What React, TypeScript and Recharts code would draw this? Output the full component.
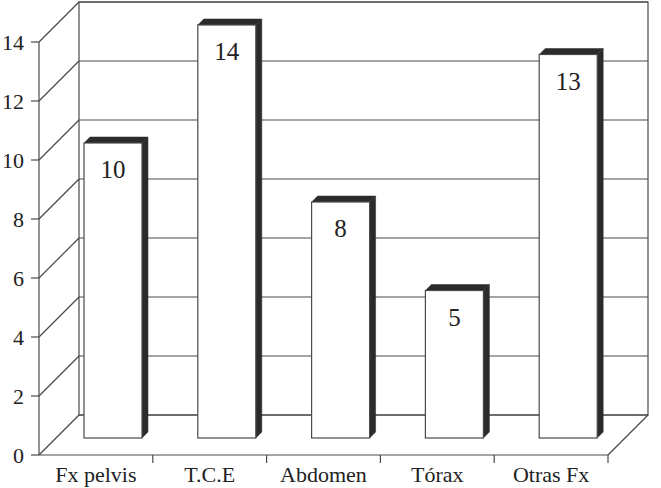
import { BarChart, Bar, XAxis, YAxis, CartesianGrid, ReferenceArea, LabelList } from 'recharts';

const categories = ['Fx pelvis', 'T.C.E', 'Abdomen', 'Tórax', 'Otras Fx'];
const values = [10, 14, 8, 5, 13];
const yTicks = [0, 2, 4, 6, 8, 10, 12, 14];

const data = categories.map((name, i) => ({ name, value: values[i] }));

const W = 661;
const H = 488;
const MARGIN = { top: 42, right: 53, left: 0, bottom: 0 };
const Y_AXIS_W = 39;
const PLOT_W = W - MARGIN.right - Y_AXIS_W;
const BAND = PLOT_W / categories.length;

const WALL = 40; // depth of the back wall
const SHIFT = 17; // bars sit between front plane and back wall
const SIDE = 6; // bar thickness
const LINE = '#4a4a4a';
const DARK = '#2b2b2b';
const FONT = '"Liberation Serif", "Times New Roman", serif';

function GridLine(props: any) {
  const { x1, y1, x2, y2 } = props;
  return (
    <g>
      <line x1={x1} y1={y1} x2={x1 + WALL} y2={y1 - WALL} stroke={LINE} strokeWidth={1.2} />
      <line x1={x1 + WALL} y1={y1 - WALL} x2={x2 + WALL} y2={y2 - WALL} stroke={LINE} strokeWidth={1.2} />
    </g>
  );
}

function Wall(props: any) {
  const { x, y, width, height } = props;
  return (
    <g fill="none" stroke={LINE} strokeWidth={1.2}>
      <rect x={x + WALL} y={y - WALL} width={width} height={height} />
      <line x1={x + width} y1={y + height} x2={x + width + WALL} y2={y + height - WALL} />
    </g>
  );
}

function Bar3D(props: any) {
  const { x, y, width, height } = props;
  if (!height) return null;
  const fx = x + SHIFT;
  const fy = y - SHIFT;
  const r = fx + width;
  const b = fy + height;
  return (
    <g>
      <polygon
        points={`${fx},${fy} ${fx + SIDE},${fy - SIDE} ${r + SIDE},${fy - SIDE} ${r},${fy}`}
        fill={DARK}
        stroke={DARK}
        strokeWidth={0.5}
      />
      <polygon
        points={`${r},${fy} ${r + SIDE},${fy - SIDE} ${r + SIDE},${b - SIDE} ${r},${b}`}
        fill={DARK}
        stroke={DARK}
        strokeWidth={0.5}
      />
      <rect x={fx} y={fy} width={width} height={height} fill="#fff" stroke={LINE} strokeWidth={1.2} />
    </g>
  );
}

function ValueLabel(props: any) {
  const { x, y, width, value } = props;
  return (
    <text
      x={x + width / 2 + SHIFT}
      y={y - SHIFT + 35}
      textAnchor="middle"
      fontSize={25}
      fontFamily={FONT}
      fill="#222"
    >
      {value}
    </text>
  );
}

function CategoryTick(props: any) {
  const { x, y, payload } = props;
  const edge = x + BAND / 2;
  return (
    <g>
      <line x1={edge} y1={y - 8} x2={edge} y2={y} stroke={LINE} strokeWidth={1.2} />
      <text x={x} y={y + 19} textAnchor="middle" fontSize={22} fontFamily={FONT} fill="#222">
        {payload.value}
      </text>
    </g>
  );
}

export default function App() {
  return (
    <div style={{ width: W, height: H, background: '#fff' }}>
      <style>{'body{margin:0}'}</style>
      <BarChart width={W} height={H} data={data} margin={MARGIN}>
        <CartesianGrid horizontal={GridLine} vertical={false} />
        <ReferenceArea y1={0} y2={14} shape={Wall} ifOverflow="visible" />
        <XAxis
          dataKey="name"
          height={33}
          tickLine={false}
          tickSize={8}
          tickMargin={0}
          tick={CategoryTick}
          axisLine={{ stroke: LINE, strokeWidth: 1.2 }}
          interval={0}
        />
        <YAxis
          width={Y_AXIS_W}
          domain={[0, 14]}
          ticks={yTicks}
          interval={0}
          tickSize={8}
          tickMargin={7}
          tick={{ fontSize: 22, fontFamily: FONT, fill: '#222' }}
          tickLine={{ stroke: LINE, strokeWidth: 1.2 }}
          axisLine={{ stroke: LINE, strokeWidth: 1.2 }}
        />
        <Bar dataKey="value" barSize={58} shape={Bar3D} isAnimationActive={false}>
          <LabelList dataKey="value" content={ValueLabel} />
        </Bar>
      </BarChart>
    </div>
  );
}
